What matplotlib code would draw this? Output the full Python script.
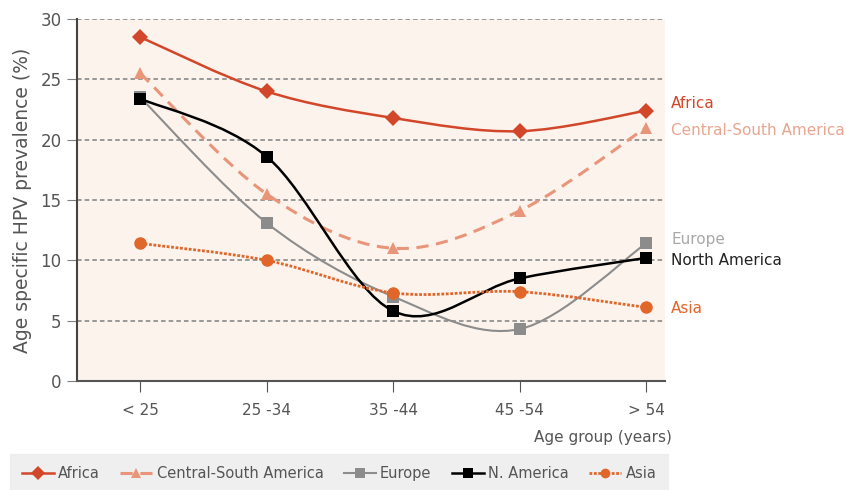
import numpy as np
import matplotlib.pyplot as plt
from matplotlib.path import Path
from matplotlib.patches import PathPatch
from matplotlib.lines import Line2D

plt.rcParams['font.family'] = ['DejaVu Sans']

age_groups = ['< 25', '25 -34', '35 -44', '45 -54', '> 54']
africa = [28.5, 24.0, 21.8, 20.7, 22.4]
csa = [25.5, 15.5, 11.0, 14.1, 21.0]
europe = [23.5, 13.1, 7.0, 4.3, 11.4]
n_america = [23.4, 18.6, 5.8, 8.5, 10.2]
asia = [11.4, 10.0, 7.3, 7.4, 6.1]

series = [
    # name, right label, values, colour, marker, linestyle, lw, marker size
    ('Africa', 'Africa', africa, '#d2462a', 'D', '-', 1.8, 8),
    ('Central-South America', 'Central-South America', csa, '#e8957a', '^', (0, (4, 2.5)), 2.2, 9),
    ('Europe', 'Europe', europe, '#8c8c8c', 's', '-', 1.5, 8),
    ('N. America', 'North America', n_america, '#000000', 's', '-', 1.8, 8),
    ('Asia', 'Asia', asia, '#e0662a', 'o', (0, (1, 0.6)), 2.0, 9),
]
label_y = [23.0, 20.8, 11.7, 10.0, 6.0]
label_col = ['#d2462a', '#e8a58f', '#a8a8a8', '#222222', '#e0662a']


def smooth_path(x, y):
    # excel style smoothed line: cubic bezier through the points
    pts = np.column_stack([x, y]).astype(float)
    verts = [pts[0]]
    codes = [Path.MOVETO]
    n = len(pts)
    for i in range(n - 1):
        p0 = pts[i - 1] if i > 0 else pts[i]
        p1 = pts[i]
        p2 = pts[i + 1]
        p3 = pts[i + 2] if i + 2 < n else pts[i + 1]
        c1 = p1 + (p2 - p0) / 6.0
        c2 = p2 - (p3 - p1) / 6.0
        verts += [c1, c2, p2]
        codes += [Path.CURVE4] * 3
    return Path(verts, codes)


fig = plt.figure(figsize=(8.47, 4.9), dpi=100)
ax = fig.add_axes([77 / 847, 1 - 381 / 490, 588 / 847, 362 / 490])
ax.set_facecolor('#fcf3ec')

x = np.arange(len(age_groups))
handles = []
for (name, lab, vals, col, mk, ls, lw, ms), ly, lc in zip(series, label_y, label_col):
    patch = PathPatch(smooth_path(x, vals), facecolor='none', edgecolor=col,
                      linewidth=lw, linestyle=ls, zorder=3, capstyle='butt')
    ax.add_patch(patch)
    ax.plot(x, vals, linestyle='none', marker=mk, color=col, markersize=ms,
            markeredgewidth=0, zorder=4)
    ax.text(4.2, ly, lab, color=lc, fontsize=11, va='center', ha='left',
            clip_on=False)
    handles.append(Line2D([], [], color=col, linestyle=ls, linewidth=lw,
                          marker=mk, markersize=7, markeredgewidth=0, label=name))

ax.set_xlim(-0.5, 4.15)
ax.set_ylim(0, 30)
ax.set_yticks([0, 5, 10, 15, 20, 25, 30])
ax.set_xticks(x)
ax.set_xticklabels(age_groups)
ax.yaxis.grid(True, linestyle=(0, (3, 2)), color='#808080', linewidth=1.1)
ax.set_axisbelow(True)

for s in ['top', 'right']:
    ax.spines[s].set_visible(False)
ax.spines['left'].set_color('#444444')
ax.spines['bottom'].set_color('#555555')
ax.spines['left'].set_linewidth(1.5)
ax.spines['bottom'].set_linewidth(1.5)

ax.tick_params(axis='y', length=7, color='#808080', labelsize=12,
               labelcolor='#555555', pad=4)
ax.tick_params(axis='x', length=8, color='#555555', labelsize=11,
               labelcolor='#555555', pad=8)

ax.set_ylabel('Age specific HPV prevalence (%)', fontsize=13.5, color='#555555',
              labelpad=6)
fig.text(672 / 847, 1 - 437 / 490, 'Age group (years)', fontsize=11,
         color='#555555', ha='right', va='center')

leg = fig.legend(handles=handles, loc='center', ncol=5, mode='expand',
                 bbox_to_anchor=(10 / 847, 0, 658 / 847, 33 / 490), frameon=True,
                 fontsize=10.5, handlelength=2.2, handletextpad=0.3,
                 columnspacing=0.6, borderpad=0.8, borderaxespad=0)
leg.get_frame().set_facecolor('#ececec')
leg.get_frame().set_edgecolor('#ececec')
leg.get_frame().set_boxstyle('square', pad=0)
for t in leg.get_texts():
    t.set_color('#555555')

fig.savefig('out.png', dpi=100)
